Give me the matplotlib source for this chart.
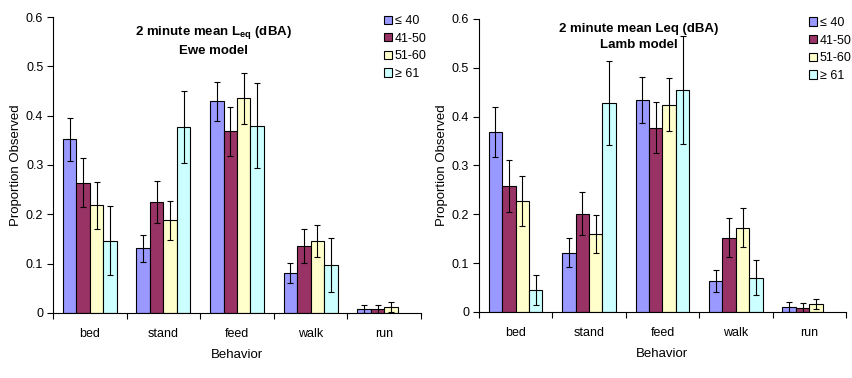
import matplotlib
matplotlib.use("Agg")
import matplotlib.pyplot as plt
import numpy as np
from matplotlib.patches import Patch

plt.rcParams['font.family'] = ['Liberation Sans', 'DejaVu Sans']

behaviors = ['bed', 'stand', 'feed', 'walk', 'run']
groups = ['\u2264 40', '41-50', '51-60', '\u2265 61']
colors = ['#9999FF', '#993366', '#FFFFCC', '#CCFFFF']

# Ewe model: rows = noise groups, cols = behaviors (nan = no bar)
ewe_mean = [
    [0.352, 0.131, 0.429, 0.081, 0.008],
    [0.264, 0.225, 0.368, 0.136, 0.008],
    [0.218, 0.188, 0.435, 0.146, 0.012],
    [0.146, 0.378, 0.380, 0.097, np.nan],
]
ewe_err = [
    [0.044, 0.027, 0.040, 0.021, 0.008],
    [0.050, 0.042, 0.049, 0.035, 0.008],
    [0.047, 0.040, 0.052, 0.033, 0.010],
    [0.070, 0.073, 0.086, 0.054, np.nan],
]

# Lamb model
lamb_mean = [
    [0.369, 0.121, 0.434, 0.063, 0.010],
    [0.258, 0.201, 0.377, 0.152, 0.008],
    [0.227, 0.160, 0.424, 0.172, 0.016],
    [0.045, 0.428, 0.455, 0.070, np.nan],
]
lamb_err = [
    [0.051, 0.030, 0.048, 0.022, 0.011],
    [0.054, 0.044, 0.052, 0.040, 0.010],
    [0.051, 0.039, 0.054, 0.040, 0.011],
    [0.031, 0.086, 0.111, 0.036, np.nan],
]

fig = plt.figure(figsize=(8.52, 3.78), dpi=100)
fig.set_facecolor('white')


def draw_panel(ax, means, errs, title, title_y):
    x = np.arange(len(behaviors))
    w = 0.183
    for j in range(len(groups)):
        m = np.array(means[j], dtype=float)
        e = np.array(errs[j], dtype=float)
        ok = ~np.isnan(m)
        pos = x + (j - 1.5) * w
        ax.bar(pos[ok], m[ok], width=w, color=colors[j], edgecolor='black',
               linewidth=0.8, zorder=2)
        ax.errorbar(pos[ok], m[ok], yerr=e[ok], fmt='none', ecolor='black',
                    elinewidth=0.8, capsize=2.5, capthick=0.8, zorder=3)

    ax.set_xlim(-0.5, len(behaviors) - 0.5)
    ax.set_ylim(0, 0.6)
    ax.set_yticks([0, 0.1, 0.2, 0.3, 0.4, 0.5, 0.6])
    ax.set_yticklabels(['0', '0.1', '0.2', '0.3', '0.4', '0.5', '0.6'])
    ax.set_xticks(np.arange(-0.5, len(behaviors)))
    ax.set_xticklabels([])
    ax.set_xticks(x, minor=True)
    ax.set_xticklabels(behaviors, minor=True)
    ax.tick_params(axis='x', which='minor', length=0, pad=11, labelsize=9)
    ax.tick_params(axis='x', which='major', length=4, width=0.8)
    ax.tick_params(axis='y', length=4, width=0.8, labelsize=9, pad=3)
    for s in ['top', 'right']:
        ax.spines[s].set_visible(False)
    for s in ['left', 'bottom']:
        ax.spines[s].set_linewidth(0.8)
    ax.set_ylabel('Proportion Observed', fontsize=9.5)
    ax.yaxis.set_label_coords(-0.085, 0.5)
    ax.set_xlabel('Behavior', fontsize=9.5)
    ax.xaxis.set_label_coords(0.5, -0.122)
    ax.text(0.435, title_y, title, transform=ax.transAxes, ha='center', va='top',
            fontsize=9.5, fontweight='bold', linespacing=1.45)
    handles = [Patch(facecolor=c, edgecolor='black', linewidth=0.8) for c in colors]
    ax.legend(handles, groups, loc='upper right', bbox_to_anchor=(1.022, 1.015),
              frameon=False, fontsize=9, handlelength=0.65, handleheight=0.65,
              handletextpad=0.2, labelspacing=0.45, borderaxespad=0.0,
              borderpad=0.2)


ax1 = fig.add_axes([0.0622, 0.172, 0.432, 0.783])
draw_panel(ax1, ewe_mean, ewe_err,
           '2 minute mean L$_{\\mathregular{eq}}$ (dBA)\nEwe model', 0.978)

ax2 = fig.add_axes([0.562, 0.175, 0.431, 0.775])
draw_panel(ax2, lamb_mean, lamb_err,
           '2 minute mean Leq (dBA)\nLamb model', 0.985)

fig.savefig('out.png', dpi=100)
